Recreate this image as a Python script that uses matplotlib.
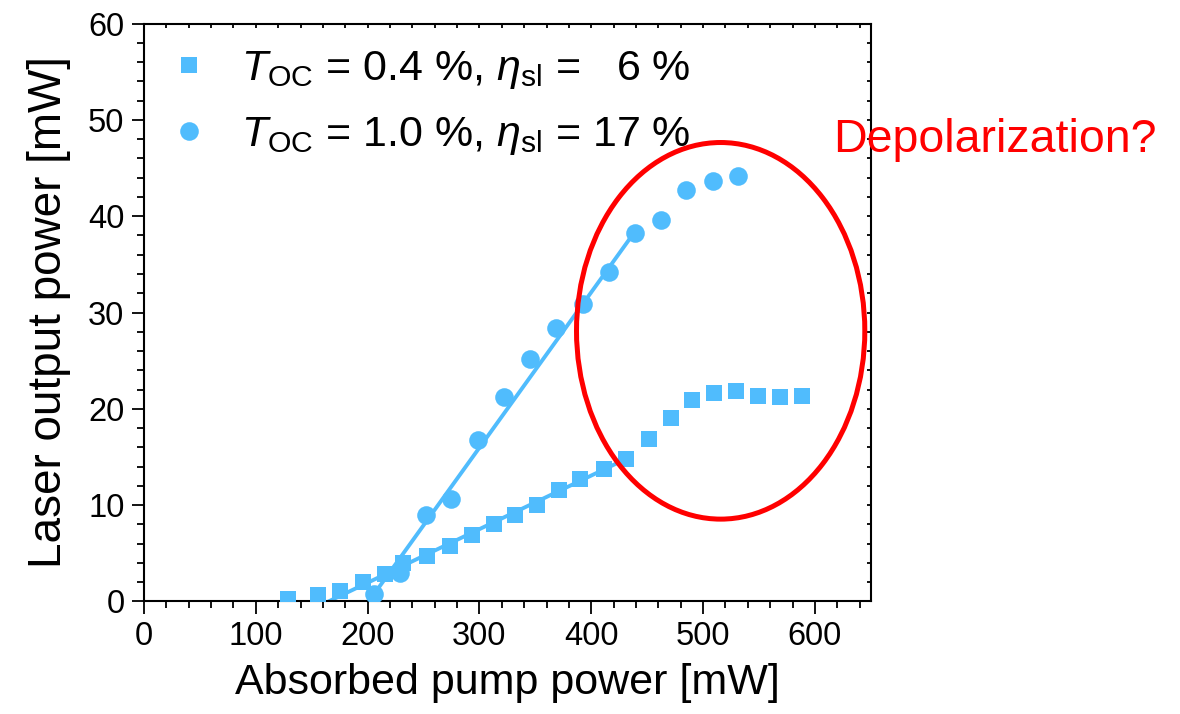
import matplotlib
matplotlib.use('Agg')
import matplotlib.pyplot as plt
from matplotlib.patches import Ellipse
from matplotlib.ticker import MultipleLocator

plt.rcParams['font.family'] = ['Liberation Sans', 'DejaVu Sans']
plt.rcParams['mathtext.fontset'] = 'custom'
plt.rcParams['mathtext.rm'] = 'Liberation Sans'
plt.rcParams['mathtext.it'] = 'Liberation Sans:italic'

# T_OC = 0.4 % (squares)
sq_x = [128.5, 156, 175.5, 195.5, 215.8, 232, 253, 273.4, 293.4, 312.7, 332, 351.5,
        371, 390, 411, 431, 451.5, 471, 490, 509.7, 529.7, 549, 569, 588.4]
sq_y = [0.3, 0.7, 1.1, 2.0, 2.9, 4.0, 4.75, 5.8, 6.9, 8.05, 9.0, 10.0,
        11.6, 12.7, 13.8, 14.8, 16.9, 19.0, 20.9, 21.6, 21.8, 21.3, 21.2, 21.3]
sq_fit_x = [165, 431]
sq_fit_y = [0.0, 14.8]

# T_OC = 1.0 % (circles)
ci_x = [206, 229, 252.5, 274.5, 298.7, 321.7, 345.6, 368.8, 392.4, 415.8,
        438.7, 462, 485, 508.8, 531.5]
ci_y = [0.75, 3.0, 9.0, 10.6, 16.8, 21.2, 25.15, 28.4, 30.9, 34.25,
        38.3, 39.6, 42.7, 43.7, 44.2]
ci_fit_x = [201, 439]
ci_fit_y = [0.0, 38.4]

labels = [r'$T_{\rm OC}$ = 0.4 %, $\eta_{\rm sl}$ =   6 %',
          r'$T_{\rm OC}$ = 1.0 %, $\eta_{\rm sl}$ = 17 %']

blue = '#50BCFD'

fig = plt.figure(figsize=(11.8, 7.14), dpi=100)
ax = fig.add_axes([0.122, 0.1576, 0.616, 0.8094])

ax.plot(sq_fit_x, sq_fit_y, color=blue, lw=2.8, zorder=2)
ax.plot(ci_fit_x, ci_fit_y, color=blue, lw=2.8, zorder=2)
ax.plot(sq_x, sq_y, 's', color=blue, ms=11.3, mew=0, label=labels[0], zorder=3)
ax.plot(ci_x, ci_y, 'o', color=blue, ms=13.4, mew=0, label=labels[1], zorder=3)

ell = Ellipse((515.7, 28.1), 257.8, 39.1, fill=False, edgecolor='red', lw=3.6, zorder=4)
ax.add_patch(ell)

ax.set_xlim(0, 650)
ax.set_ylim(0, 60)
ax.xaxis.set_major_locator(MultipleLocator(100))
ax.xaxis.set_minor_locator(MultipleLocator(20))
ax.yaxis.set_major_locator(MultipleLocator(10))
ax.yaxis.set_minor_locator(MultipleLocator(2))

for s in ax.spines.values():
    s.set_linewidth(1.5)
ax.tick_params(which='both', top=True, right=True, width=1.3)
ax.tick_params(which='major', direction='out', length=9, labelsize=23.5, pad=5)
ax.tick_params(which='minor', direction='out', length=5)
# mirrored ticks on top/right point inward
for t in ax.xaxis.get_major_ticks() + ax.xaxis.get_minor_ticks():
    t.tick2line.set_marker(3)
    t.tick2line.set_markersize(3)
for t in ax.yaxis.get_major_ticks() + ax.yaxis.get_minor_ticks():
    t.tick2line.set_marker(0)
    t.tick2line.set_markersize(3)

ax.set_xlabel('Absorbed pump power [mW]', fontsize=31, labelpad=8)
ax.set_ylabel('Laser output power [mW]', fontsize=33, labelpad=12)

leg = ax.legend(loc='upper left', frameon=False, fontsize=31, handletextpad=0.75,
                handlelength=0.9, borderaxespad=0.2, labelspacing=0.55,
                bbox_to_anchor=(0.0, 1.0))

fig.text(0.706, 0.804, 'Depolarization?', color='red', fontsize=33.5,
         ha='left', va='center')

fig.savefig('out.png', dpi=100)
